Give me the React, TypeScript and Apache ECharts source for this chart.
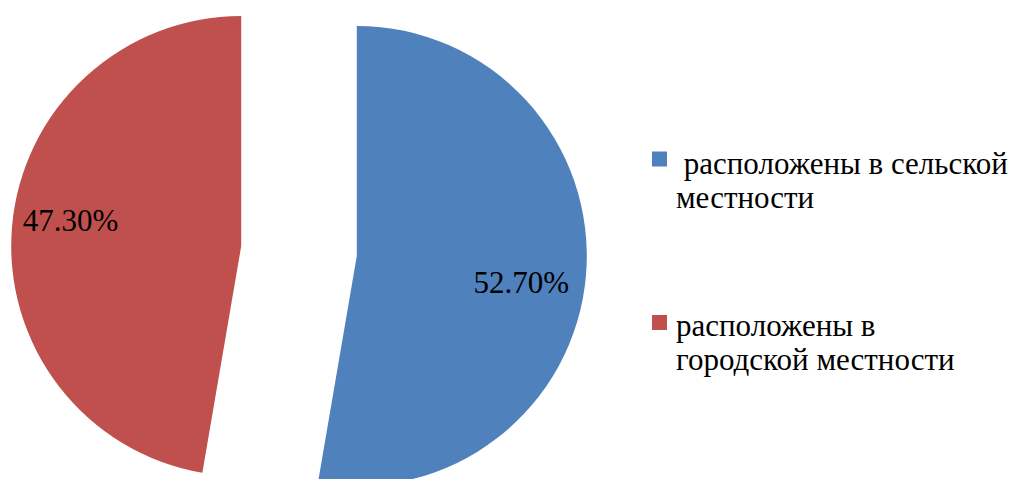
import React, { useEffect, useRef } from "react";
import * as echarts from "echarts";

const categories = [" расположены в сельской\nместности", "расположены в\nгородской местности"];
const values = [52.7, 47.3];
const colors = ["#4F81BD", "#C0504D"];

const FONT = "Liberation Serif";

export default function App() {
  const ref = useRef<HTMLDivElement>(null);
  useEffect(() => {
    if (!ref.current) return;
    const chart = echarts.init(ref.current, undefined, { renderer: "svg" });
    const labelShifts = [
      [47, 17],
      [-53, -16],
    ];
    const markerTops = [151.5, 315];
    const textTops = [146, 308];
    const option: any = {
      animation: false,
      backgroundColor: "#ffffff",
      series: [
        {
          type: "pie",
          center: [299, 251],
          radius: 230,
          startAngle: 90,
          clockwise: true,
          selectedMode: "multiple",
          selectedOffset: 58,
          silent: true,
          emphasis: { disabled: true },
          label: {
            show: true,
            position: "inside",
            fontFamily: FONT,
            fontSize: 31,
            color: "#000",
            formatter: (p: any) => `${Number(p.value).toFixed(2)}%`,
          },
          labelLayout: (p: any) => ({
            dx: labelShifts[p.dataIndex][0],
            dy: labelShifts[p.dataIndex][1],
          }),
          labelLine: { show: false },
          itemStyle: { borderWidth: 0 },
          data: values.map((v, i) => ({
            value: v,
            name: categories[i],
            selected: true,
            itemStyle: { color: colors[i] },
          })),
        },
      ],
      graphic: categories.flatMap((name, i) => [
        {
          type: "rect",
          shape: { x: 652, y: markerTops[i], width: 15, height: 15 },
          style: { fill: colors[i] },
          silent: true,
        },
        {
          type: "text",
          x: 676,
          y: textTops[i],
          style: {
            text: name,
            fontFamily: FONT,
            fontSize: 31,
            lineHeight: 34,
            fill: "#000",
            verticalAlign: "top",
          },
          silent: true,
        },
      ]),
    };
    chart.setOption(option);
    return () => chart.dispose();
  }, []);
  return (
    <div
      ref={ref}
      style={{ position: "fixed", left: 0, top: 0, width: 1021, height: 479, background: "#fff" }}
    />
  );
}
